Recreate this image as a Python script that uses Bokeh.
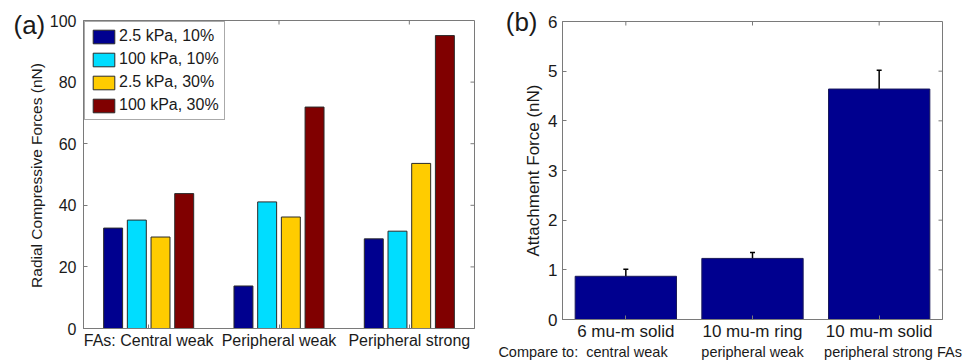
import math
from bokeh.plotting import figure
from bokeh.models import (Range1d, FixedTicker, Label, Legend, LegendItem, LinearAxis,
                          ColumnDataSource, Whisker, TeeHead)
from bokeh.embed import file_html
from bokeh.resources import INLINE

# ---------------- data ----------------
groups_a = ["FAs: Central weak", "Peripheral weak", "Peripheral strong"]
series_a = ["2.5 kPa, 10%", "100 kPa, 10%", "2.5 kPa, 30%", "100 kPa, 30%"]
vals_a = [
    [32.6, 13.8, 29.1],   # 2.5 kPa, 10%
    [35.2, 41.1, 31.6],   # 100 kPa, 10%
    [29.7, 36.2, 53.6],   # 2.5 kPa, 30%
    [43.8, 71.9, 95.1],   # 100 kPa, 30%
]
colors_a = ["#00008F", "#00DDFF", "#FFCC00", "#800000"]
yticks_a = [0, 20, 40, 60, 80, 100]
ylabel_a = "Radial Compressive Forces (nN)"

cats_b = ["6 mu-m solid", "10 mu-m ring", "10 mu-m solid"]
compare_b = ["Compare to:\u00a0 central weak", "peripheral weak", "peripheral strong FAs"]
compare_x = [0.662, 2.0, 3.109]
vals_b = [0.87, 1.23, 4.64]
err_b = [0.14, 0.12, 0.38]
yticks_b = [0, 1, 2, 3, 4, 5, 6]
ylabel_b = "Attachment Force (nN)"

FONT = "Liberation Sans"
TXT = "#1a1a1a"
BOX = "#7a7a7a"
XT = [1, 2, 3]
H = 362


def make_overrides(ticks, labels):
    d = {}
    for t, g in zip(ticks, labels):
        d[t] = g
        d[str(t)] = g
        if float(t) == int(t):
            d[int(t)] = g
            d[str(int(t))] = g
    return d


def style_common(p, yticks, xlabels, fs):
    p.xgrid.visible = False
    p.ygrid.visible = False
    p.outline_line_color = BOX
    p.outline_line_width = 1
    p.background_fill_color = "white"
    p.border_fill_color = "white"
    xa = p.below[0]
    ya = p.left[0]
    for ax in (xa, ya):
        ax.axis_line_color = BOX
        ax.major_tick_line_color = BOX
        ax.major_tick_in = 4
        ax.major_tick_out = 0
        ax.minor_tick_line_color = None
        ax.major_label_text_font = FONT
        ax.major_label_text_color = TXT
        ax.major_label_text_font_size = fs
        ax.axis_label_text_font = FONT
        ax.axis_label_text_font_style = "normal"
        ax.axis_label_text_color = TXT
    xa.ticker = FixedTicker(ticks=XT)
    ya.ticker = FixedTicker(ticks=yticks)
    xa.major_label_overrides = make_overrides(XT, xlabels)
    # mirrored inward ticks (box on) on right and top edges
    x1 = p.x_range.end
    y1 = p.y_range.end
    p.ray(x=[x1] * len(yticks), y=yticks, length=4, length_units="screen",
          angle=math.pi, line_color=BOX, line_width=1)
    p.ray(x=XT, y=[y1] * len(XT), length=4, length_units="screen",
          angle=-math.pi / 2, line_color=BOX, line_width=1)
    return xa, ya


# ---------------- strip left of panel (a): panel tag and y title ----------------
sa = figure(width=46, height=H, output_backend="svg", toolbar_location=None,
            x_range=Range1d(0, 46), y_range=Range1d(H, 0),
            x_axis_type=None, y_axis_type=None,
            min_border=0, min_border_left=0, min_border_right=0,
            min_border_top=0, min_border_bottom=0)
sa.outline_line_color = None
sa.border_fill_color = "white"
sa.background_fill_color = "white"
sa.add_layout(Label(x=13, y=24, text="(a)", text_font=FONT, text_font_size="26px",
                    text_color=TXT, text_align="left", text_baseline="middle"))
sa.add_layout(Label(x=36, y=175, text=ylabel_a, text_font=FONT, text_font_size="15.5px",
                    text_color=TXT, angle=math.pi / 2, text_align="center",
                    text_baseline="middle"))

# ---------------- panel (a) ----------------
pa = figure(width=440, height=H, output_backend="svg", toolbar_location=None,
            x_range=Range1d(0.5, 3.5), y_range=Range1d(0, 100),
            min_border_left=36, min_border_right=12, min_border_top=20, min_border_bottom=34)
xa_a, ya_a = style_common(pa, yticks_a, groups_a, "16px")
xa_a.major_label_standoff = 3
ya_a.major_label_standoff = 7

n = len(series_a)
group_w = min(0.8, n / (n + 1.5))
pitch = group_w / n
bar_w = 0.8 * pitch
items = []
for k, (name, vals, col) in enumerate(zip(series_a, vals_a, colors_a)):
    off = (k - (n - 1) / 2) * pitch
    src = ColumnDataSource(dict(x=[t + off for t in XT], top=vals))
    r = pa.vbar(x="x", top="top", bottom=0, width=bar_w, source=src,
                fill_color=col, line_color="#2a2a2a", line_width=1)
    items.append(LegendItem(label=name, renderers=[r]))

leg = Legend(items=items, location="top_left", margin=1, padding=5, spacing=5,
             glyph_height=17, glyph_width=27, label_height=17, label_standoff=2,
             label_text_font=FONT, label_text_font_size="16px", label_text_color=TXT,
             border_line_color="#555555", border_line_width=1,
             background_fill_color="white", background_fill_alpha=1)
pa.add_layout(leg, "center")

# ---------------- panel (b) ----------------
pb = figure(width=486, height=H, output_backend="svg", toolbar_location=None,
            x_range=Range1d(0.5, 3.5), y_range=Range1d(0, 6),
            min_border_left=76, min_border_right=30, min_border_top=21, min_border_bottom=42)
xa_b, ya_b = style_common(pb, yticks_b, cats_b, "17px")
xa_b.major_label_standoff = 2
ya_b.major_label_standoff = 5
ya_b.axis_label = ylabel_b
ya_b.axis_label_text_font_size = "17px"
ya_b.axis_label_standoff = 2

# panel tag "(b)" as the label of an outer, lineless left axis
tag_b = LinearAxis(ticker=FixedTicker(ticks=[yticks_b[-1]]),
                   major_label_overrides=make_overrides([yticks_b[-1]], ["(b)"]),
                   axis_line_color=None, major_tick_line_color=None,
                   major_tick_in=0, major_tick_out=0, minor_tick_line_color=None,
                   major_label_standoff=-16, major_label_text_font=FONT,
                   major_label_text_font_size="26px", major_label_text_color=TXT)
pb.add_layout(tag_b, "left")

srcb = ColumnDataSource(dict(x=XT, top=vals_b,
                             lo=[v - e for v, e in zip(vals_b, err_b)],
                             hi=[v + e for v, e in zip(vals_b, err_b)]))
pb.vbar(x="x", top="top", bottom=0, width=0.8, source=srcb,
        fill_color="#00008F", line_color="#1a1a5a", line_width=1)
wh = Whisker(base="x", lower="lo", upper="hi", source=srcb, line_color="black", line_width=1.5,
             upper_head=TeeHead(size=5, line_color="black", line_width=1.5),
             lower_head=TeeHead(size=5, line_color="black", line_width=1.5))
pb.add_layout(wh)

# second line of x labels as a second, tickless bottom axis
second = LinearAxis(ticker=FixedTicker(ticks=compare_x),
                    major_label_overrides=make_overrides(compare_x, compare_b),
                    axis_line_color=None, major_tick_line_color=None,
                    major_tick_in=0, major_tick_out=0, minor_tick_line_color=None,
                    major_label_standoff=0, major_label_text_font=FONT,
                    major_label_text_font_size="14.5px", major_label_text_color=TXT)
pb.add_layout(second, "below")

# separate roots laid out side by side (keeps each plot frame independent)
template = """
{% block postamble %}
<style>
html, body { margin: 0; padding: 0; }
body { display: flex; flex-direction: row; align-items: flex-start; }
</style>
{% endblock %}
"""
open("out.html", "w").write(file_html([sa, pa, pb], INLINE, template=template))
